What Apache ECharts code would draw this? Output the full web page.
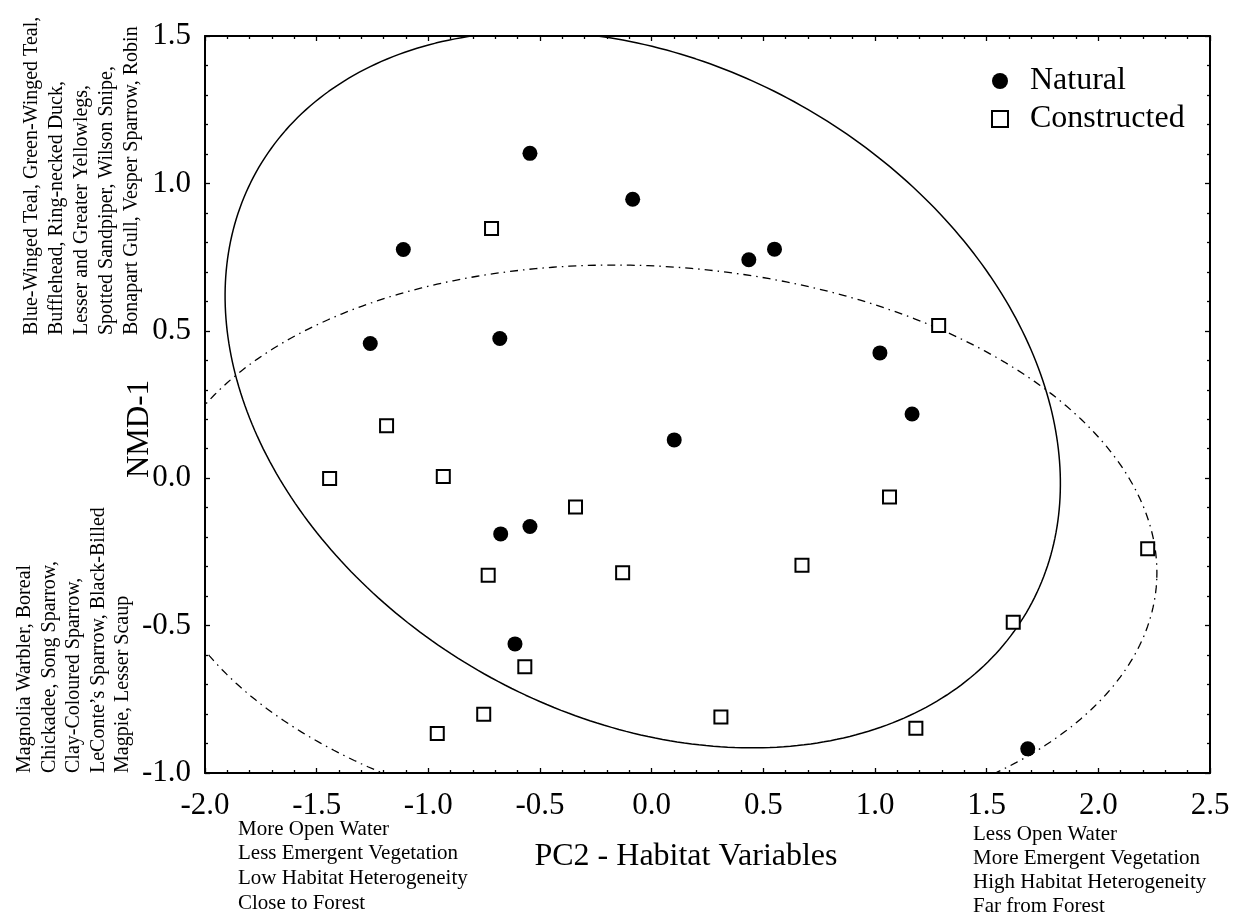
<!DOCTYPE html>
<html>
<head>
<meta charset="utf-8">
<script src="https://cdn.jsdelivr.net/npm/echarts@6/dist/echarts.min.js"></script>
<style>
  html, body { margin: 0; padding: 0; background: #fff; }
  #chart { width: 1233px; height: 915px; }
</style>
</head>
<body>
<div id="chart"></div>
<script>
// Site scores: PC2 (habitat) vs NMD-1 (bird community)
const naturalX = [-0.545, -0.085, -1.112, -1.260, -0.680, 0.435, 0.550, 1.022, 1.166, 0.101, -0.676, -0.545, -0.612, 1.684];
const naturalY = [1.102, 0.946, 0.776, 0.457, 0.474, 0.741, 0.777, 0.425, 0.218, 0.130, -0.189, -0.164, -0.562, -0.918];

const constructedX = [-0.717, 1.285, -1.187, -1.442, -0.933, -0.341, 1.065, 0.673, 2.221, -0.732, -0.130, 1.619, -0.568, -0.752, 0.310, 1.183, -0.960];
const constructedY = [0.847, 0.518, 0.178, -0.001, 0.006, -0.098, -0.064, -0.295, -0.239, -0.329, -0.321, -0.489, -0.640, -0.801, -0.810, -0.848, -0.866];

// Confidence ellipses: [centerX, centerY, semiAxisA, semiAxisB, rotationDeg]
const naturalEllipse = [-0.04, 0.30, 1.913, 1.146, -15.25];
const constructedEllipse = [0.02, -0.24, 2.244, 0.959, -2.5];

// Axis ranges and tick labels
const xRange = [-2.0, 2.5];
const yRange = [-1.0, 1.5];
const tickStep = 0.5;

// Annotation text
const upperSpecies = [
  'Blue-Winged Teal, Green-Winged Teal,',
  'Bufflehead, Ring-necked Duck,',
  'Lesser and Greater Yellowlegs,',
  'Spotted Sandpiper, Wilson Snipe,',
  'Bonapart Gull, Vesper Sparrow, Robin'
];
const lowerSpecies = [
  'Magnolia Warbler, Boreal',
  'Chickadee, Song Sparrow,',
  'Clay-Coloured Sparrow,',
  'LeConte\u2019s Sparrow, Black-Billed',
  'Magpie, Lesser Scaup'
];
const lowHabitat = ['More Open Water', 'Less Emergent Vegetation', 'Low Habitat Heterogeneity', 'Close to Forest'];
const highHabitat = ['Less Open Water', 'More Emergent Vegetation', 'High Habitat Heterogeneity', 'Far from Forest'];

const FONT = '"Liberation Serif", "Times New Roman", serif';

function ellipsePoints(p) {
  const [cx, cy, a, b, deg] = p;
  const phi = deg * Math.PI / 180;
  const pts = [];
  for (let i = 0; i <= 360; i++) {
    const t = i * Math.PI / 180;
    pts.push([
      cx + a * Math.cos(t) * Math.cos(phi) - b * Math.sin(t) * Math.sin(phi),
      cy + a * Math.cos(t) * Math.sin(phi) + b * Math.sin(t) * Math.cos(phi)
    ]);
  }
  return pts;
}

const zip = (xs, ys) => xs.map((x, i) => [x, ys[i]]);

const chart = echarts.init(document.getElementById('chart'), null, { renderer: 'canvas' });

function axisCommon(range, showLabel, pos) {
  return {
    type: 'value',
    min: range[0],
    max: range[1],
    interval: tickStep,
    position: pos,
    axisLine: { show: true, onZero: false, lineStyle: { color: '#000', width: 2 } },
    axisTick: { show: true, inside: true, length: 5, lineStyle: { color: '#000', width: 1.3 } },
    minorTick: { show: true, splitNumber: 5, length: 3, lineStyle: { color: '#000', width: 1.3 } },
    splitLine: { show: false },
    minorSplitLine: { show: false },
    axisLabel: {
      show: showLabel,
      fontFamily: FONT,
      fontSize: 31,
      color: '#000',
      formatter: v => v.toFixed(1)
    }
  };
}

const xBottom = axisCommon(xRange, true, 'bottom');
xBottom.axisLabel.margin = 17;
const xTop = axisCommon(xRange, false, 'top');
const yLeft = axisCommon(yRange, true, 'left');
yLeft.axisLabel.margin = 14;
const yRight = axisCommon(yRange, false, 'right');

const graphics = [];
upperSpecies.forEach((line, i) => {
  graphics.push({
    type: 'text', x: 32 + i * 25, y: 335, rotation: Math.PI / 2,
    style: { text: line, font: '20px ' + FONT, fill: '#000', align: 'left', verticalAlign: 'middle' }
  });
});
lowerSpecies.forEach((line, i) => {
  graphics.push({
    type: 'text', x: 25 + i * 24.5, y: 773, rotation: Math.PI / 2,
    style: { text: line, font: '20px ' + FONT, fill: '#000', align: 'left', verticalAlign: 'middle' }
  });
});
lowHabitat.forEach((line, i) => {
  graphics.push({
    type: 'text', x: 238, y: 829 + i * 24.7,
    style: { text: line, font: '21px ' + FONT, fill: '#000', align: 'left', verticalAlign: 'middle' }
  });
});
highHabitat.forEach((line, i) => {
  graphics.push({
    type: 'text', x: 973, y: 834 + i * 24,
    style: { text: line, font: '21px ' + FONT, fill: '#000', align: 'left', verticalAlign: 'middle' }
  });
});
graphics.push({
  type: 'text', x: 140, y: 429, rotation: Math.PI / 2,
  style: { text: 'NMD-1', font: '31px ' + FONT, fill: '#000', align: 'center', verticalAlign: 'middle' }
});
graphics.push({
  type: 'text', x: 686, y: 857,
  style: { text: 'PC2 - Habitat Variables', font: '32px ' + FONT, fill: '#000', align: 'center', verticalAlign: 'middle' }
});

chart.setOption({
  animation: false,
  backgroundColor: '#fff',
  grid: { left: 205, top: 36, right: 23, bottom: 142, containLabel: false },
  xAxis: [xBottom, xTop],
  yAxis: [yLeft, yRight],
  legend: {
    orient: 'vertical',
    left: 986,
    top: 60,
    itemWidth: 16,
    itemHeight: 16,
    itemGap: 6,
    textStyle: { fontFamily: FONT, fontSize: 32, color: '#000', padding: [0, 0, 0, 17] },
    data: ['Natural', 'Constructed']
  },
  series: [
    {
      name: 'Natural ellipse', type: 'line', data: ellipsePoints(naturalEllipse),
      showSymbol: false, silent: true, clip: true, z: 1,
      lineStyle: { color: '#000', width: 1.5, type: 'solid' }
    },
    {
      name: 'Constructed ellipse', type: 'line', data: ellipsePoints(constructedEllipse),
      showSymbol: false, silent: true, clip: true, z: 1,
      lineStyle: { color: '#000', width: 1.3, type: [8, 5, 1.5, 5] }
    },
    {
      name: 'Natural', type: 'scatter', data: zip(naturalX, naturalY),
      symbol: 'circle', symbolSize: 15, z: 3,
      itemStyle: { color: '#000', opacity: 1 }
    },
    {
      name: 'Constructed', type: 'scatter', data: zip(constructedX, constructedY),
      symbol: 'rect', symbolSize: 13, z: 3,
      itemStyle: { color: '#fff', borderColor: '#000', borderWidth: 2, opacity: 1 }
    }
  ],
  graphic: graphics
});
</script>
</body>
</html>
